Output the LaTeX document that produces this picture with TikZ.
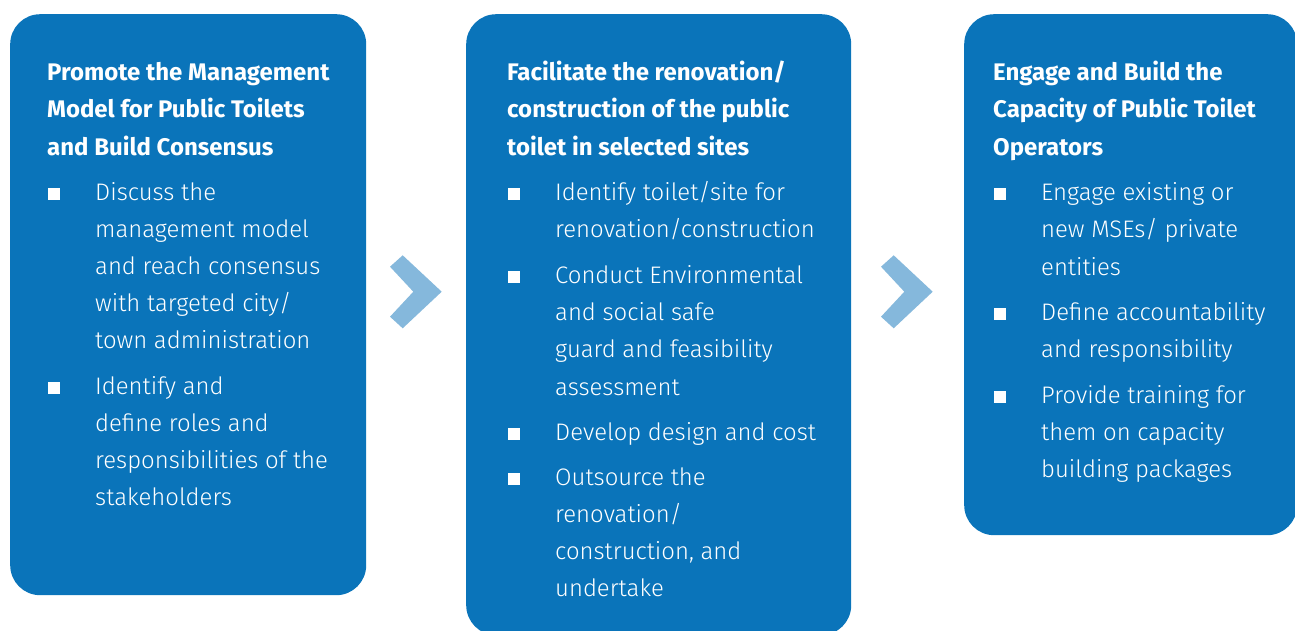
\documentclass[tikz,border=0pt]{standalone}
\usepackage{fontspec}
\setmainfont{Fira Sans Light}[BoldFont={Fira Sans Bold}]
\definecolor{boxblue}{HTML}{0A74BA}
\definecolor{chevblue}{HTML}{85B8DC}
\begin{document}
\begin{tikzpicture}[x=1pt,y=-1pt,
  panel/.style={fill=boxblue, draw=none, rounded corners=30pt, anchor=north west, inner sep=0pt},
  head/.style={anchor=base west, inner sep=0pt, text=white, font=\fontsize{24}{28}\selectfont\bfseries},
  body/.style={anchor=base west, inner sep=0pt, text=white, font=\fontsize{23.9}{28}\selectfont},
  bul/.style={anchor=south west, fill=white, minimum size=12pt, inner sep=0pt},
  chev/.style={fill=chevblue, draw=none}]
\useasboundingbox (0,0) rectangle (1295,630);
% panels
\node[panel, minimum width=356pt, minimum height=581pt] (p1) at (10,14) {};
\node[panel, minimum width=385pt, minimum height=621pt] (p2) at (466,14) {};
\node[panel, minimum width=333pt, minimum height=521pt] (p3) at (964,14) {};
% chevrons
\fill[chev] (390,266.7) -- (402.7,255.3) -- (441.7,291.7) -- (402.7,328.3) -- (390,316.7) -- (413.3,291.7) -- cycle;
\fill[chev] (881,266.7) -- (893.7,255.3) -- (932.7,291.7) -- (893.7,328.3) -- (881,316.7) -- (904.3,291.7) -- cycle;
% panel 1
\node[head] (h1a) at (47,80) {Promote the Management};
\node[head] (h1b) at (47,117.5) {Model for Public Toilets};
\node[head] (h1c) at (47,155) {and Build Consensus};
\node[bul] (b1a) at (48,200) {};
\node[body] (t1a1) at (95,200) {Discuss the};
\node[body] (t1a2) at (95,237) {management model};
\node[body] (t1a3) at (95,274) {and reach consensus};
\node[body] (t1a4) at (95,311) {with targeted city/};
\node[body] (t1a5) at (95,348) {town administration};
\node[bul] (b1b) at (48,394.5) {};
\node[body] (t1b1) at (95,394.5) {Identify and};
\node[body] (t1b2) at (95,431.5) {define roles and};
\node[body] (t1b3) at (95,468.5) {responsibilities of the};
\node[body] (t1b4) at (95,505.5) {stakeholders};
% panel 2
\node[head] (h2a) at (507,80) {Facilitate the renovation/};
\node[head] (h2b) at (507,117.5) {construction of the public};
\node[head] (h2c) at (507,155) {toilet in selected sites};
\node[bul] (b2a) at (508,200) {};
\node[body] (t2a1) at (555,200) {Identify toilet/site for};
\node[body] (t2a2) at (555,237) {renovation/construction};
\node[bul] (b2b) at (508,283) {};
\node[body] (t2b1) at (555,283) {Conduct Environmental};
\node[body] (t2b2) at (555,320) {and social safe};
\node[body] (t2b3) at (555,357.5) {guard and feasibility};
\node[body] (t2b4) at (555,395) {assessment};
\node[bul] (b2c) at (508,440) {};
\node[body] (t2c1) at (555,440) {Develop design and cost};
\node[bul] (b2d) at (508,485) {};
\node[body] (t2d1) at (555,485) {Outsource the};
\node[body] (t2d2) at (555,522) {renovation/};
\node[body] (t2d3) at (555,559) {construction, and};
\node[body] (t2d4) at (555,596.5) {undertake};
% panel 3
\node[head] (h3a) at (993,80) {Engage and Build the};
\node[head] (h3b) at (993,117.5) {Capacity of Public Toilet};
\node[head] (h3c) at (993,155) {Operators};
\node[bul] (b3a) at (994,200) {};
\node[body] (t3a1) at (1041,200) {Engage existing or};
\node[body] (t3a2) at (1041,237.5) {new MSEs/ private};
\node[body] (t3a3) at (1041,275) {entities};
\node[bul] (b3b) at (994,320) {};
\node[body] (t3b1) at (1041,320) {Define accountability};
\node[body] (t3b2) at (1041,357.5) {and responsibility};
\node[bul] (b3c) at (994,403) {};
\node[body] (t3c1) at (1041,403) {Provide training for};
\node[body] (t3c2) at (1041,440) {them on capacity};
\node[body] (t3c3) at (1041,477) {building packages};
\end{tikzpicture}
\end{document}
